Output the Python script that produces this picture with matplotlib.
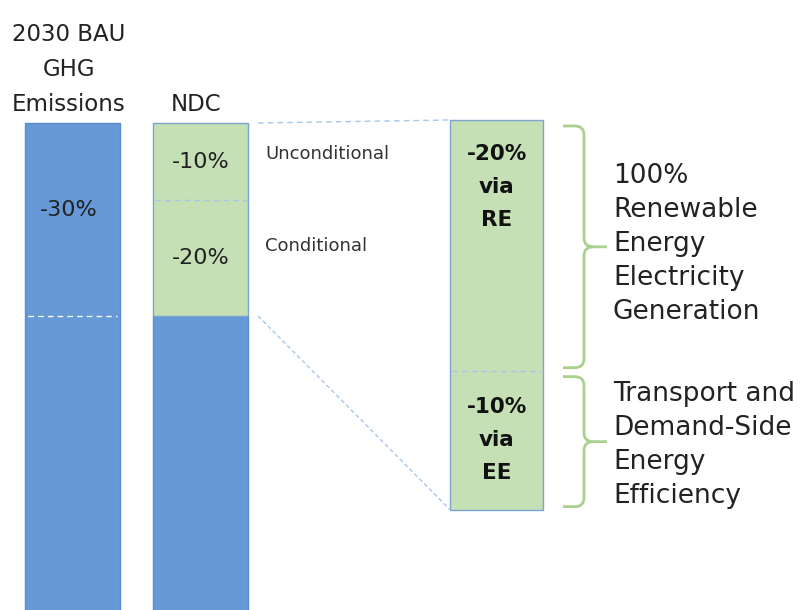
# -*- coding: utf-8 -*-
# NDC reduction targets: BAU bar, NDC bar and zoom on the 30% cut
import matplotlib.pyplot as plt
from matplotlib.path import Path
from matplotlib.patches import PathPatch

# DATA -----------------------------------------------------------------
bar_titles = ['2030 BAU\nGHG\nEmissions', 'NDC']
bau_total = 100                       # BAU emissions = 100 %
bau_cut_label = '-30%'
bau_cut = 30                          # total reduction (% of BAU)
ndc_labels = ['-10%', '-20%']
ndc_heights = [12, 18]                # split of the 30 % cut as drawn
ndc_types = ['Unconditional', 'Conditional']
zoom_labels = ['-20%\nvia\nRE', '-10%\nvia\nEE']
zoom_heights = [19.3, 10.7]           # split of the zoomed 30 % cut as drawn
zoom_notes = ['100%\nRenewable\nEnergy\nElectricity\nGeneration',
              'Transport and\nDemand-Side\nEnergy\nEfficiency']

# STYLE ----------------------------------------------------------------
blue = '#6699d6'
blue_edge = '#5a8cd0'
green = '#c5e0b4'
green_edge = '#7ba3d6'
dash_blue = '#a6c6ea'
brace_green = '#a9d18e'
font = 'DejaVu Sans'

# pixel-like x positions, y in % of BAU (0 = top of bars, downwards)
x_bau, x_ndc, x_zoom = 72.5, 200.5, 496.5
w, w_zoom = 95, 93
zoom = 2.02                           # magnification of the zoom bar
zoom_top = -0.47
px = 6.43                             # pixels per % on the y axis

fig = plt.figure(figsize=(8.11, 6.10), dpi=100)
ax = fig.add_axes([0, 0, 1, 1])
ax.set_xlim(0, 811)
ax.set_ylim(610 / px - 123 / px, -123 / px)
ax.axis('off')

# BAU bar
ax.bar(x_bau, bau_total, bottom=0, width=w, color=blue, edgecolor=blue_edge, lw=1)
ax.hlines(bau_cut, x_bau - w / 2 + 3, x_bau + w / 2 - 3, colors='white',
          linestyles=(0, (4, 3)), lw=1)
ax.text(x_bau - 4, bau_cut * 0.45, bau_cut_label, ha='center', va='center',
        fontsize=16, family=font, color='#222222')

# NDC bar
ax.bar(x_ndc, bau_total - bau_cut, bottom=bau_cut, width=w, color=blue,
       edgecolor=blue_edge, lw=1)
ax.bar(x_ndc, bau_cut, bottom=0, width=w, color=green, edgecolor=green_edge, lw=1)
bottom = 0
for lab, h, kind in zip(ndc_labels, ndc_heights, ndc_types):
    ax.text(x_ndc, bottom + h / 2, lab, ha='center', va='center',
            fontsize=16, family=font, color='#222222')
    ax.text(265, bottom + 0.4 * h, kind, ha='left', va='center', fontsize=13,
            family=font, color='#333333')
    bottom += h
ax.hlines(ndc_heights[0], x_ndc - w / 2 + 2, x_ndc + w / 2 + 1, colors=dash_blue,
          linestyles=(0, (4, 3)), lw=1)

# column titles
for x, t in zip([x_bau, x_ndc], bar_titles):
    ax.text(x - 4, -1.9, t, ha='center', va='baseline', fontsize=16.5,
            family=font, color='#222222', linespacing=1.65)

# zoom bar
ax.bar(x_zoom, bau_cut * zoom, bottom=zoom_top, width=w_zoom, color=green,
       edgecolor=green_edge, lw=1)
split = zoom_top + zoom_heights[0] * zoom
ax.hlines(split, x_zoom - w_zoom / 2 + 2, x_zoom + w_zoom / 2 - 2, colors=dash_blue,
          linestyles=(0, (4, 3)), lw=1)
ax.text(x_zoom, zoom_top + 24 / px, zoom_labels[0], ha='center', va='top',
        fontsize=15.5, family=font, fontweight='bold', color='#111111', linespacing=1.8)
ax.text(x_zoom, split + zoom_heights[1] * zoom / 2, zoom_labels[1], ha='center',
        va='center', fontsize=15.5, family=font, fontweight='bold', color='#111111',
        linespacing=1.8)

# connector lines NDC -> zoom
ax.plot([x_ndc + w / 2 + 10, x_zoom - w_zoom / 2], [0, zoom_top], color=dash_blue,
        ls=(0, (4, 3)), lw=1)
ax.plot([x_ndc + w / 2 + 10, x_zoom - w_zoom / 2], [bau_cut, zoom_top + bau_cut * zoom],
        color=dash_blue, ls=(0, (3, 2)), lw=1)


def brace(y_a, y_b, x_s, x_v, x_t):
    r = 9
    ry = r / px
    y_m = (y_a + y_b) / 2
    verts = [(x_s, y_a), (x_v - r, y_a), (x_v, y_a), (x_v, y_a + ry),
             (x_v, y_m - ry), (x_v, y_m), (x_v + r, y_m), (x_t, y_m),
             (x_s, y_b), (x_v - r, y_b), (x_v, y_b), (x_v, y_b - ry),
             (x_v, y_m + ry), (x_v, y_m), (x_v + r, y_m)]
    codes = [Path.MOVETO, Path.LINETO, Path.CURVE3, Path.CURVE3,
             Path.LINETO, Path.CURVE3, Path.CURVE3, Path.LINETO,
             Path.MOVETO, Path.LINETO, Path.CURVE3, Path.CURVE3,
             Path.LINETO, Path.CURVE3, Path.CURVE3]
    ax.add_patch(PathPatch(Path(verts, codes), fill=False, ec=brace_green, lw=2))
    return y_m


x_right = x_zoom + w_zoom / 2
seg_top = zoom_top
for i, (h, note) in enumerate(zip(zoom_heights, zoom_notes)):
    seg_bot = seg_top + h * zoom
    y_m = brace(seg_top + 6 / px, seg_bot - 3 / px, x_right + 20, x_right + 41, x_right + 64)
    ax.text(x_right + 70, y_m + (-3 if i == 0 else 3) / px, note, ha='left', va='center',
            fontsize=19, family=font, color='#222222', linespacing=1.4)
    seg_top = seg_bot

fig.savefig('out.png', dpi=100)
